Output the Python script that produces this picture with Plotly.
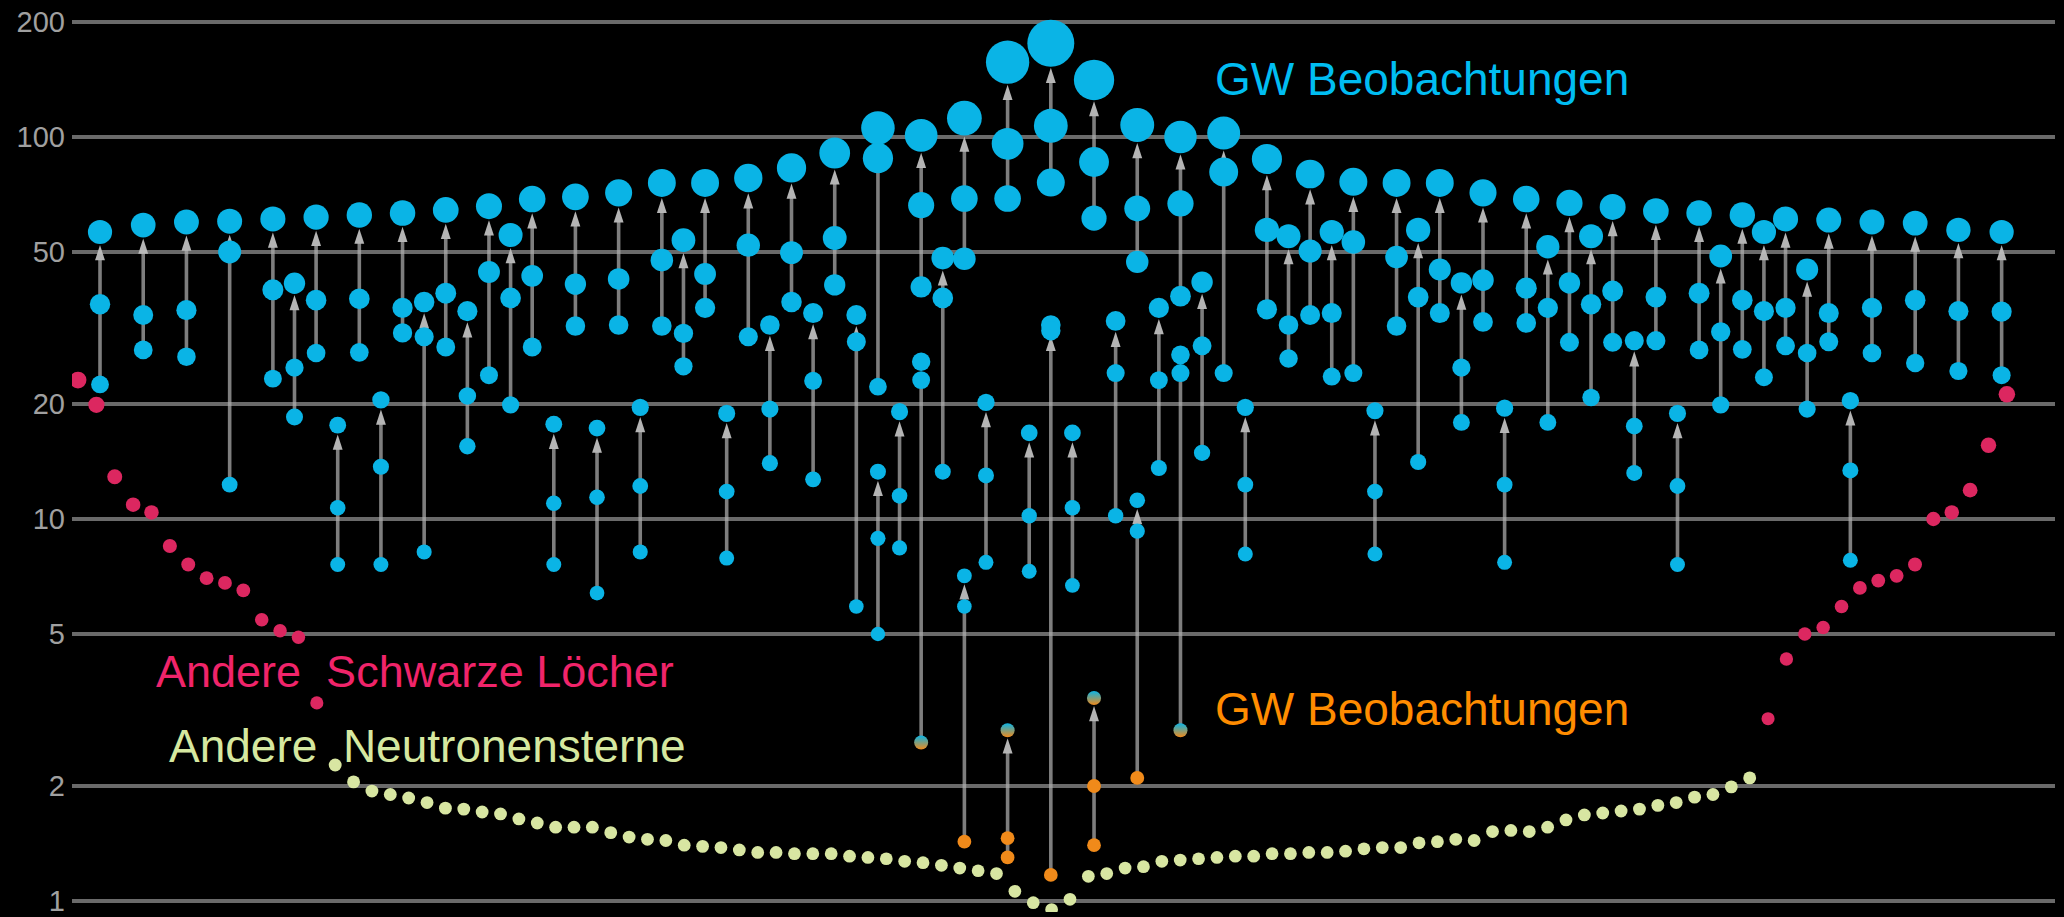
import plotly.graph_objects as go

# ---------------- GW observations (mergers) ----------------
# slot = ordering position of each merger; masses in solar masses
slot = [0, 2, 4, 6, 8, 9, 10, 11, 12, 13,
        14, 15, 16, 17, 18, 19, 20, 21, 22, 23,
        24, 25, 26, 27, 28, 29, 30, 31, 32, 33,
        34, 35, 36, 36, 37, 38, 38, 39, 40, 40,
        41, 42, 42, 43, 44, 44, 45, 46, 46, 47,
        48, 48, 49, 50, 50, 51, 52, 53, 54, 55,
        56, 57, 58, 59, 60, 61, 62, 63, 64, 65,
        66, 67, 68, 69, 70, 71, 72, 73, 74, 75,
        76, 77, 78, 79, 80, 81, 82, 84, 86, 88]
final_mass = [56.4, 58.8, 59.9, 60.2, 61.0, 41.4, 61.7, 17.6, 62.5, 20.5,
              63.2, 37.0, 64.4, 35.0, 65.9, 55.4, 68.8, 17.7, 69.7, 17.3,
              71.4, 19.6, 75.8, 53.7, 75.8, 18.9, 78.1, 32.2, 83.0, 34.6,
              90.8, 34.2, 105.6, 13.3, 19.1, 101.0, 25.8, 48.2, 112.0, 7.1,
              20.2, 157.0, 2.8, 16.8, 176.0, 32.2, 16.8, 141.0, 3.4, 33.0,
              107.5, 11.2, 35.7, 100.0, 26.9, 41.7, 102.4, 19.6, 87.6, 55.0,
              80.0, 56.4, 76.3, 19.2, 75.8, 57.1, 75.8, 41.5, 71.4, 19.5,
              68.8, 51.6, 67.2, 55.0, 65.6, 29.3, 64.0, 18.9, 63.2, 48.8,
              62.5, 56.4, 61.0, 45.0, 60.6, 20.4, 59.9, 59.5, 57.1, 56.4]
primary_mass = [36.5, 34.2, 35.2, 50.0, 39.8, 24.9, 37.4, 10.7, 37.7, 13.7,
                35.7, 30.0, 39.0, 21.0, 44.3, 37.9, 43.3, 11.0, 41.2, 11.4,
                42.5, 12.2, 47.6, 30.6, 43.8, 11.8, 52.1, 19.4, 49.8, 23.0,
                54.4, 29.1, 88.0, 8.9, 11.5, 66.3, 23.1, 37.9, 69.0, 5.9,
                13.0, 96.0, 1.46, 10.2, 107.0, 31.1, 10.7, 86.0, 2.0, 24.1,
                65.0, 9.3, 23.1, 67.0, 24.1, 28.4, 81.0, 12.3, 57.1, 32.2,
                50.3, 34.6, 53.1, 11.8, 48.5, 38.1, 45.0, 24.9, 42.2, 12.3,
                40.2, 35.7, 41.5, 36.5, 39.5, 17.5, 38.1, 12.2, 39.0, 30.9,
                37.4, 35.0, 35.7, 27.2, 34.6, 13.4, 35.7, 37.4, 35.0, 34.9]
secondary_mass = [22.5, 27.7, 26.6, 12.3, 23.3, 18.5, 27.2, 7.6, 27.3, 7.6,
                  30.7, 8.2, 28.2, 15.5, 23.8, 19.9, 28.2, 7.6, 32.0, 6.4,
                  32.2, 8.2, 32.0, 25.1, 35.7, 7.9, 30.0, 14.0, 37.0, 12.7,
                  41.0, 5.9, 22.2, 5.0, 8.4, 40.5, 2.6, 13.3, 48.0, 1.43,
                  7.7, 69.0, 1.3, 7.3, 76.0, 1.17, 6.7, 61.3, 1.4, 10.2,
                  47.1, 2.1, 13.6, 38.3, 2.8, 14.9, 24.1, 8.1, 35.4, 26.3,
                  34.2, 23.6, 24.1, 8.1, 32.0, 14.1, 34.6, 17.9, 32.8, 7.7,
                  32.6, 17.9, 29.0, 20.8, 29.0, 13.2, 29.3, 7.6, 27.7, 19.9,
                  27.8, 23.5, 28.4, 19.4, 29.1, 7.8, 27.2, 25.6, 24.4, 23.8]

# ---------------- EM observations ----------------
em_bh_left = [23.1, 19.9, 12.9, 10.9, 10.4, 8.5, 7.6, 7.0, 6.8, 6.5, 5.45, 5.1, 4.9, 3.3]
em_ns = [2.27, 2.05, 1.94, 1.90, 1.86, 1.81, 1.75, 1.74, 1.71, 1.69,
         1.64, 1.60, 1.56, 1.56, 1.56, 1.51, 1.47, 1.45, 1.44, 1.40,
         1.39, 1.38, 1.36, 1.34, 1.34, 1.33, 1.33, 1.33, 1.31, 1.30,
         1.29, 1.27, 1.26, 1.24, 1.22, 1.20, 1.18, 1.06, 0.99, 0.95,
         1.01, 1.16, 1.18, 1.22, 1.23, 1.27, 1.28, 1.29, 1.30, 1.31,
         1.31, 1.33, 1.33, 1.34, 1.34, 1.35, 1.37, 1.38, 1.38, 1.42,
         1.43, 1.45, 1.44, 1.52, 1.53, 1.52, 1.56, 1.63, 1.68, 1.70,
         1.72, 1.74, 1.78, 1.81, 1.87, 1.90, 1.99, 2.10]
em_bh_right = [3.0, 4.3, 5.0, 5.2, 5.9, 6.6, 6.9, 7.1, 7.6, 10.0, 10.4, 11.9, 15.6, 21.2]

tick_vals = [1, 2, 5, 10, 20, 50, 100, 200]
tick_text = ["1", "2", "5", "10", "20", "50", "100", "200"]

label_gw_bh = "GW Beobachtungen"
label_gw_ns = "GW Beobachtungen"
label_em_bh = "Andere\u00a0 Schwarze Löcher"
label_em_ns = "Andere\u00a0 Neutronensterne"

# ---------------- styles ----------------
BLUE = "#0AB4E6"
BLUE_TXT = "#00BDF2"
ORANGE = "#F08A1A"
ORANGE_TXT = "#FF8C00"
RED = "#DC2760"
RED_TXT = "#F0246A"
YELLOW = "#D8E6A2"
YELLOW_TXT = "#D6E8A0"
LINE = "rgba(175,175,175,0.72)"
FONT = "Liberation Sans, Arial, sans-serif"


def dot_size(m):
    return 13.5 + 0.19 * m


def kind(m):
    if m < 2.5:
        return "ns"
    if m < 5:
        return "gap"
    return "bh"


fig = go.Figure()

# connectors with arrowheads (lowest component -> remnant)
lx, ly, sym, sz, so = [], [], [], [], []
for k, f, m2 in zip(slot, final_mass, secondary_mass):
    lx += [k, k, None]
    ly += [m2, f, None]
    sym += ["circle", "arrow", "circle"]
    sz += [0, 16, 0]
    so += [0, dot_size(f) / 2 + 1, 0]
fig.add_trace(go.Scatter(
    x=lx, y=ly, mode="lines+markers",
    line=dict(color=LINE, width=3.6),
    marker=dict(symbol=sym, size=sz, color="rgba(190,190,190,0.95)", opacity=1,
                angleref="previous", standoff=so, line=dict(width=0)),
    hoverinfo="skip", showlegend=False))

# merger dots grouped by class (remnants first, then components)
groups = {"bh": ([], [], []), "ns": ([], [], []), "gap": ([], [], [])}
for series in (final_mass, primary_mass, secondary_mass):
    for k, m in zip(slot, series):
        gx, gy, gs = groups[kind(m)]
        gx.append(k)
        gy.append(m)
        gs.append(dot_size(m))

gx, gy, gs = groups["bh"]
fig.add_trace(go.Scatter(x=gx, y=gy, mode="markers",
                         marker=dict(color=BLUE, size=gs, opacity=1, line=dict(width=0)),
                         showlegend=False, name="GW BH"))
gx, gy, gs = groups["ns"]
fig.add_trace(go.Scatter(x=gx, y=gy, mode="markers",
                         marker=dict(color=ORANGE, size=gs, opacity=1, line=dict(width=0)),
                         showlegend=False, name="GW NS"))
gx, gy, gs = groups["gap"]
fig.add_trace(go.Scatter(x=gx, y=gy, mode="markers",
                         marker=dict(color=BLUE, size=gs, opacity=1, line=dict(width=0),
                                     gradient=dict(type="vertical", color=ORANGE)),
                         showlegend=False, name="GW gap"))

# EM observations on their own evenly spaced index axis
n_l, n_ns = len(em_bh_left), len(em_ns)
idx_l = list(range(n_l))
idx_ns = list(range(n_l, n_l + n_ns))
idx_r = list(range(n_l + n_ns, n_l + n_ns + len(em_bh_right)))
fig.add_trace(go.Scatter(x=idx_l + idx_r, y=em_bh_left + em_bh_right, xaxis="x2",
                         mode="markers",
                         marker=dict(color=RED, opacity=1,
                                     size=[dot_size(m) - 1 for m in em_bh_left + em_bh_right],
                                     line=dict(width=0)),
                         showlegend=False))
fig.add_trace(go.Scatter(x=idx_ns, y=em_ns, xaxis="x2", mode="markers",
                         marker=dict(color=YELLOW, opacity=1,
                                     size=[dot_size(m) - 1 for m in em_ns],
                                     line=dict(width=0)),
                         showlegend=False))

fig.update_layout(
    width=2064, height=917,
    paper_bgcolor="black", plot_bgcolor="black",
    margin=dict(l=72, r=9, t=5, b=5),
    showlegend=False,
    xaxis=dict(range=[-1.296, 90.47], visible=False, fixedrange=True),
    xaxis2=dict(range=[-0.327, 107.62], overlaying="x", visible=False, fixedrange=True),
    yaxis=dict(type="log", range=[-0.0288, 2.3455], tickvals=tick_vals, ticktext=tick_text,
               showgrid=True, gridcolor="#6a6a6a", gridwidth=3.5, zeroline=False,
               showline=False, ticks="", ticklabelstandoff=6, automargin=False,
               ticklabeloverflow="allow", fixedrange=True,
               tickfont=dict(family=FONT, size=29, color="#a0a0a0")),
    annotations=[
        dict(text=label_gw_bh, x=0.5754, y=0.9184, xref="paper", yref="paper",
             xanchor="left", yanchor="middle", showarrow=False,
             font=dict(family=FONT, size=46, color=BLUE_TXT)),
        dict(text=label_gw_ns, x=0.5754, y=0.2238, xref="paper", yref="paper",
             xanchor="left", yanchor="middle", showarrow=False,
             font=dict(family=FONT, size=46, color=ORANGE_TXT)),
        dict(text=label_em_bh, x=0.0414, y=0.2652, xref="paper", yref="paper",
             xanchor="left", yanchor="middle", showarrow=False,
             font=dict(family=FONT, size=45, color=RED_TXT)),
        dict(text=label_em_ns, x=0.0479, y=0.183, xref="paper", yref="paper",
             xanchor="left", yanchor="middle", showarrow=False,
             font=dict(family=FONT, size=46, color=YELLOW_TXT)),
    ],
)

fig.write_html("out.html", config={"displayModeBar": False},
               post_script="document.body.style.margin='0px';")
